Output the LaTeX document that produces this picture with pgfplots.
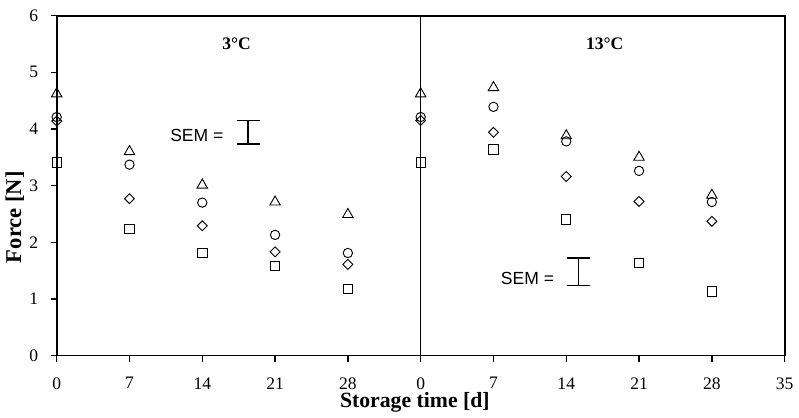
\documentclass[border={0pt 0pt 0pt 2.5pt}]{standalone}
\usepackage{pgfplots}
\pgfplotsset{compat=1.18}
\usepackage{fontspec}
\setmainfont{Liberation Serif}
\setsansfont{Liberation Sans}
\begin{document}
\begin{tikzpicture}
\begin{axis}[
  scale only axis,
  width=435.6pt, height=203.4pt,
  xmin=0, xmax=70, ymin=0, ymax=6,
  xtick={0,7,...,70},
  xticklabels={0,7,14,21,28,0,7,14,21,28,35},
  ytick={0,1,...,6},
  tick align=outside, tick pos=left,
  major tick length=3.6pt,
  axis line style={line width=1.1pt},
  every tick/.style={line width=0.8pt, black},
  /pgf/number format/assume math mode=true,
  ticklabel style={font=\fontsize{10.5}{12}\selectfont},
  xticklabel style={yshift=-6pt},
  yticklabel style={xshift=-4pt},
  xlabel={\textbf{Storage time [d]}},
  ylabel={\textbf{Force [N]}},
  xlabel style={font=\fontsize{13}{15}\selectfont, at={(axis description cs:0.492,0)}, anchor=center, yshift=-28pt},
  ylabel style={font=\fontsize{13.5}{15}\selectfont, at={(axis description cs:0,0.407)}, anchor=center, yshift=25pt},
  clip=false,
]
% divider
\addplot[black, line width=0.8pt] coordinates {(35,0) (35,6)};
% triangles
\addplot[only marks, mark=triangle, mark size=3.6pt, mark options={line width=0.55pt}] coordinates {
 (0,4.62) (7,3.60) (14,3.01) (21,2.71) (28,2.49)
 (35,4.62) (42,4.73) (49,3.88) (56,3.50) (63,2.83)};
% circles
\addplot[only marks, mark=o, mark size=2.8pt, mark options={line width=0.55pt}] coordinates {
 (0,4.21) (7,3.37) (14,2.70) (21,2.13) (28,1.81)
 (35,4.21) (42,4.39) (49,3.78) (56,3.26) (63,2.71)};
% diamonds
\addplot[only marks, mark=square, mark size=2.1pt, mark options={rotate=45, line width=0.55pt}] coordinates {
 (0,4.14) (7,2.77) (14,2.29) (21,1.83) (28,1.61)
 (35,4.15) (42,3.94) (49,3.16) (56,2.72) (63,2.37)};
% squares
\addplot[only marks, mark=square, mark size=2.8pt, mark options={line width=0.55pt}] coordinates {
 (0,3.41) (7,2.24) (14,1.81) (21,1.58) (28,1.17)
 (35,3.41) (42,3.64) (49,2.40) (56,1.64) (63,1.13)};
% SEM bars
\addplot[draw=none, mark=none, error bars/.cd, y dir=both, y explicit,
  error bar style={line width=0.9pt, black},
  error mark options={rotate=90, mark size=6.9pt, line width=0.9pt, black}]
  coordinates {(18.4,3.94) +- (0,0.205) (50.2,1.48) +- (0,0.24)};
\node[anchor=east, font=\sffamily\fontsize{10.5}{12}\selectfont] at (axis cs:16.6,3.88) {SEM =};
\node[anchor=east, font=\sffamily\fontsize{10.5}{12}\selectfont] at (axis cs:48.4,1.36) {SEM =};
\node[font=\bfseries\fontsize{10.5}{12}\selectfont] at (axis cs:17.3,5.5) {3°C};
\node[font=\bfseries\fontsize{10.5}{12}\selectfont] at (axis cs:52.7,5.5) {13°C};
\end{axis}
\end{tikzpicture}
\end{document}
